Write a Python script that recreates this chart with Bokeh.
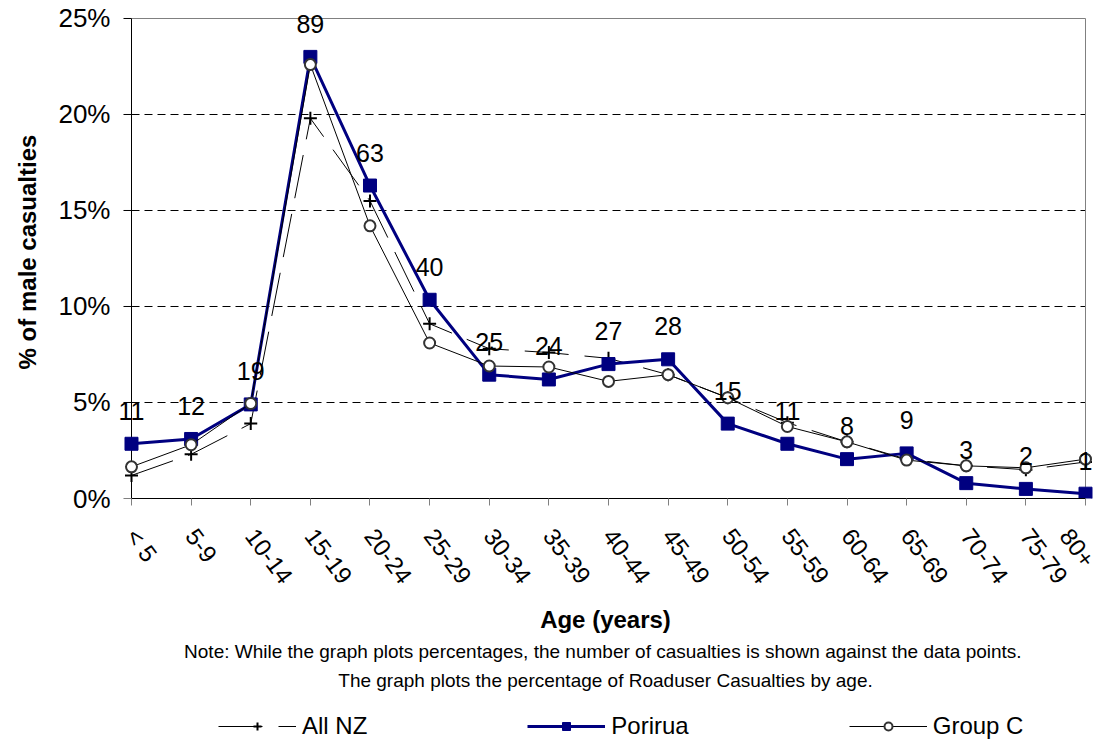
import math
from bokeh.plotting import figure
from bokeh.layouts import column
from bokeh.models import (Range1d, FixedTicker, PrintfTickFormatter, Legend, LegendItem,
                          Title, ColumnDataSource, LabelSet, Grid)
from bokeh.embed import file_html
from bokeh.resources import INLINE
from bokeh.core.properties import value

categories = ["< 5", "5-9", "10-14", "15-19", "20-24", "25-29", "30-34", "35-39", "40-44",
              "45-49", "50-54", "55-59", "60-64", "65-69", "70-74", "75-79", "80+"]
porirua_pct = [2.85, 3.1, 4.9, 23.0, 16.3, 10.35, 6.45, 6.2, 7.0, 7.25, 3.9, 2.85, 2.05, 2.35, 0.8, 0.5, 0.25]
porirua_count = [11, 12, 19, 89, 63, 40, 25, 24, 27, 28, 15, 11, 8, 9, 3, 2, 1]
allnz_pct = [1.2, 2.3, 3.9, 19.8, 15.5, 9.1, 7.8, 7.6, 7.3, 6.45, 5.25, 3.95, 2.95, 2.05, 1.7, 1.5, 1.9]
groupc_pct = [1.65, 2.8, 4.95, 22.6, 14.2, 8.1, 6.9, 6.85, 6.1, 6.45, 5.25, 3.75, 2.95, 2.0, 1.7, 1.6, 2.05]
y_ticks = [0, 5, 10, 15, 20, 25]

FONT = "Liberation Sans"
NAVY = "#000080"
N = len(categories) - 1
YMAX = y_ticks[-1]

xs = list(range(len(categories)))
src = ColumnDataSource(dict(x=xs, por=porirua_pct, nz=allnz_pct, gc=groupc_pct,
                            lab=[str(c) for c in porirua_count]))

# frame is slightly larger than the plotted area so the data labels and end markers are not clipped
p = figure(frame_width=980, frame_height=493, output_backend="svg", toolbar_location=None,
           x_range=Range1d(-0.2683, N + 0.1677), y_range=Range1d(0, YMAX + 0.677),
           min_border_left=115, min_border_top=5, min_border_right=5, min_border_bottom=197)
p.background_fill_color = "white"
p.border_fill_color = "white"
p.outline_line_color = None

# grid
p.xgrid.visible = False
p.ygrid.ticker = FixedTicker(ticks=y_ticks[1:-1])
p.ygrid.grid_line_color = "black"
p.ygrid.grid_line_dash = "8 5"
p.ygrid.grid_line_width = 1
p.ygrid.cross_bounds = (0, N)
top_border = Grid(dimension=1, ticker=FixedTicker(ticks=[YMAX]), cross_bounds=(0, N),
                  grid_line_color="#808080", grid_line_width=1)
right_border = Grid(dimension=0, ticker=FixedTicker(ticks=[N]), cross_bounds=(0, YMAX),
                    grid_line_color="#808080", grid_line_width=1)
y_axis_line = Grid(dimension=0, ticker=FixedTicker(ticks=[0]), cross_bounds=(0, YMAX),
                   grid_line_color="black", grid_line_width=1)
p.add_layout(top_border)
p.add_layout(right_border)

# y axis: labels from the left panel, line and ticks at x = 0
p.yaxis.ticker = FixedTicker(ticks=y_ticks)
p.yaxis.formatter = PrintfTickFormatter(format="%d%%")
p.yaxis.major_label_text_font = FONT
p.yaxis.major_label_text_font_size = "26px"
p.yaxis.major_label_text_color = "black"
p.yaxis.major_tick_out = 0
p.yaxis.major_tick_in = 0
p.yaxis.major_tick_line_color = None
p.yaxis.minor_tick_line_color = None
p.yaxis.axis_line_color = None
p.yaxis.major_label_standoff = 5
p.yaxis.axis_label = "% of male casualties"
p.yaxis.axis_label_text_font = FONT
p.yaxis.axis_label_text_font_size = "24px"
p.yaxis.axis_label_text_font_style = "bold"
p.yaxis.axis_label_text_color = "black"
p.yaxis.axis_label_standoff = 14

p.xaxis.bounds = (0, N)
p.xaxis.ticker = FixedTicker(ticks=xs)
p.xaxis.major_label_overrides = {i: c for i, c in enumerate(categories)}
p.xaxis.major_label_orientation = -0.93
p.xaxis.major_label_text_font = FONT
p.xaxis.major_label_text_font_size = "24px"
p.xaxis.major_label_text_color = "black"
p.xaxis.major_tick_out = 7
p.xaxis.major_tick_in = 0
p.xaxis.major_tick_line_color = "#808080"
p.xaxis.minor_tick_line_color = None
p.xaxis.major_label_standoff = 26
p.xaxis.axis_label = "Age (years)"
p.xaxis.axis_label_text_font = FONT
p.xaxis.axis_label_text_font_size = "24px"
p.xaxis.axis_label_text_font_style = "bold"
p.xaxis.axis_label_text_color = "black"
p.xaxis.axis_label_standoff = 6
p.xaxis.axis_line_color = "black"

p.add_layout(y_axis_line)
p.ray(x=[0] * len(y_ticks), y=y_ticks, length=8, length_units="screen", angle=math.pi,
      line_color="black", line_width=1)


def draw_series(fig):
    nz_line = fig.line("x", "nz", source=src, line_color="black", line_width=1, line_dash="44 16")
    nz_mark = fig.scatter("x", "nz", source=src, marker="cross", size=13, line_color="black", line_width=2)
    por_line = fig.line("x", "por", source=src, line_color=NAVY, line_width=3)
    por_mark = fig.scatter("x", "por", source=src, marker="square", size=13, fill_color=NAVY, line_color=NAVY)
    gc_line = fig.line("x", "gc", source=src, line_color="black", line_width=1)
    gc_mark = fig.scatter("x", "gc", source=src, marker="circle", size=11, fill_color="white",
                          line_color="#333333", line_width=2)
    return [("All NZ", [nz_line, nz_mark]), ("Porirua", [por_line, por_mark]),
            ("Group C", [gc_line, gc_mark])]


draw_series(p)

labels = LabelSet(x="x", y="por", text="lab", source=src, text_font=value(FONT),
                  text_font_size=value("25px"), text_color="black", text_align="center",
                  text_baseline="middle", y_offset=33)
p.add_layout(labels)

# notes
for line, so in [("Note: While the graph plots percentages, the number of casualties is shown against the  data points.", 7),
                 ("The graph plots the percentage of Roaduser Casualties by age.", 4)]:
    t = Title(text=line, align="center", text_font=FONT, text_font_size="19px",
              text_font_style="normal", text_color="black", standoff=so)
    p.add_layout(t, "below")

# legend strip: same series drawn outside its visible range, legend shown in its frame
lg = figure(width=1100, height=45, output_backend="svg", toolbar_location=None,
            x_range=Range1d(100, 101), y_range=Range1d(100, 101),
            x_axis_location=None, y_axis_location=None,
            min_border_left=0, min_border_right=0, min_border_top=0, min_border_bottom=0)
lg.grid.visible = False
lg.outline_line_color = None
lg.background_fill_color = "white"
lg.border_fill_color = "white"
items = draw_series(lg)

legend = Legend(items=[LegendItem(label=lab, renderers=rs) for lab, rs in items],
                orientation="horizontal", location=(103, 0), glyph_width=78, glyph_height=20,
                label_standoff=6, label_width=20, spacing=160, padding=0, margin=0,
                border_line_color=None, background_fill_alpha=0,
                label_text_font=FONT, label_text_font_size="24px", label_text_color="black")
lg.add_layout(legend)

layout = column(p, lg, spacing=0)
open("out.html", "w").write(file_html(layout, INLINE))
